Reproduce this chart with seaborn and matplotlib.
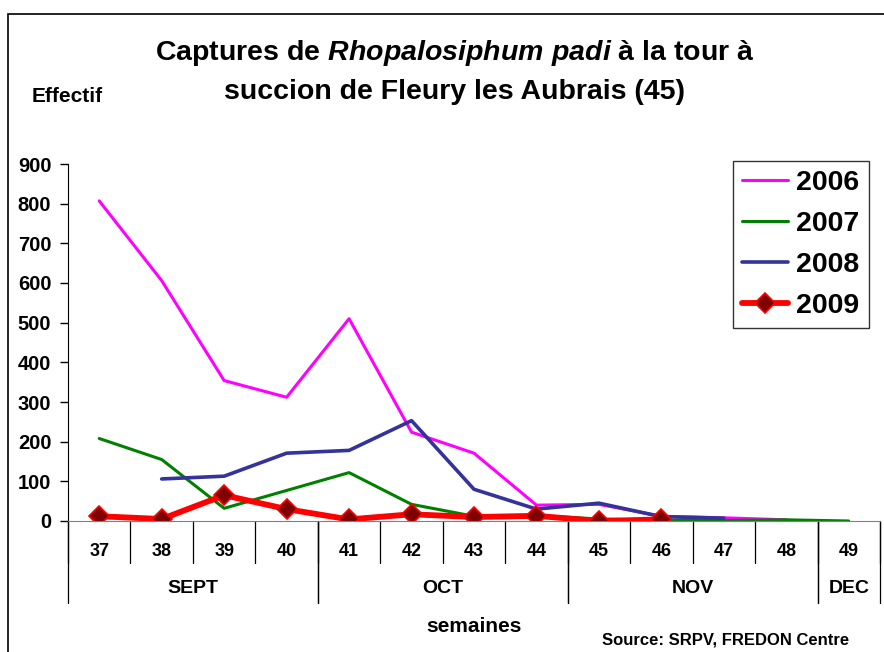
"""
Captures de Rhopalosiphum padi - Fleury les Aubrais
"""

import numpy as np
import pandas as pd
import matplotlib

matplotlib.use("Agg")
import matplotlib.pyplot as plt
import matplotlib.patches as mpatches
import matplotlib.transforms as mtransforms
import seaborn as sns

# Data
weeks = [37, 38, 39, 40, 41, 42, 43, 44, 45, 46, 47, 48, 49]
nan = np.nan
y2006 = [807, 606, 354, 312, 510, 224, 171, 40, 42, 12, 8, 3, nan]
y2007 = [208, 155, 32, 77, 122, 42, 12, 14, 5, 2, 1, 3, 0]
y2008 = [nan, 106, 113, 171, 178, 253, 80, 30, 45, 11, 7, nan, nan]
y2009 = [12, 5, 65, 30, 4, 17, 10, 13, 0, 4, nan, nan, nan]
months = ["SEPT", "OCT", "NOV", "DEC"]
month_weeks = [[37, 38, 39, 40], [41, 42, 43, 44], [45, 46, 47, 48], [49]]
yticks = [0, 100, 200, 300, 400, 500, 600, 700, 800, 900]

series = {"2006": y2006, "2007": y2007, "2008": y2008, "2009": y2009}
styles = {
    "2006": dict(color="#FF00FF", linewidth=2.2),
    "2007": dict(color="#008000", linewidth=2.2),
    "2008": dict(color="#333399", linewidth=2.6),
    "2009": dict(color="#FF0000", linewidth=4.2, marker="D", markersize=10,
                 markerfacecolor="#800000", markeredgecolor="#FF0000",
                 markeredgewidth=1.2),
}

sns.set_style("white")
plt.rcParams["font.family"] = ["Liberation Sans", "DejaVu Sans"]
plt.rcParams["font.weight"] = "bold"
plt.rcParams["text.color"] = "black"
plt.rcParams["xtick.color"] = "black"
plt.rcParams["ytick.color"] = "black"
plt.rcParams["mathtext.fontset"] = "custom"
plt.rcParams["mathtext.it"] = "Liberation Sans:italic:bold"
plt.rcParams["mathtext.rm"] = "Liberation Sans:bold"

fig = plt.figure(figsize=(8.84, 6.52), dpi=100)
ax = fig.add_axes([68 / 884, 1 - 521 / 652, (880 - 68) / 884, (521 - 164) / 652])

for year, vals in series.items():
    df = pd.DataFrame({"semaine": weeks, "effectif": vals}).dropna()
    sns.lineplot(data=df, x="semaine", y="effectif", ax=ax, label=year,
                 **styles[year])

ax.set_xlim(weeks[0] - 0.5, weeks[-1] + 0.5)
ax.set_ylim(0, 900)
ax.set_yticks(yticks)
ax.set_yticklabels([str(v) for v in yticks], fontsize=14.5, fontweight="bold")
ax.set_xticks(weeks)
ax.set_xticklabels([str(w) for w in weeks], fontsize=13, fontweight="bold")
ax.tick_params(axis="y", direction="out", length=6, width=1, color="black",
               left=True, pad=6)
ax.tick_params(axis="x", length=0, pad=16)
ax.set_xlabel("")
ax.set_ylabel("")

for side in ["top", "right"]:
    ax.spines[side].set_visible(False)
ax.spines["left"].set_color("black")
ax.spines["bottom"].set_color("#808080")

# category separators below the axis
trans = mtransforms.blended_transform_factory(ax.transData, ax.transAxes)
for b in np.arange(weeks[0] - 0.5, weeks[-1] + 1.0, 1.0):
    ax.plot([b, b], [0, -0.118], transform=trans, color="black", lw=0.9,
            clip_on=False)
for name, mw in zip(months, month_weeks):
    left, right = mw[0] - 0.5, mw[-1] + 0.5
    for b in (left, right):
        ax.plot([b, b], [0, -0.23], transform=trans, color="black", lw=0.9,
                clip_on=False)
    ax.text((left + right) / 2, -0.19, name, transform=trans, ha="center",
            va="center", fontsize=14, fontweight="bold")

# legend
leg = ax.legend(loc="upper left", bbox_to_anchor=(733 / 884, 1 - 161 / 652),
                bbox_transform=fig.transFigure, prop={"size": 20.5, "weight": "bold"},
                frameon=True, fancybox=False, handlelength=1.6,
                labelspacing=0.52, borderpad=0.33, handletextpad=0.3,
                borderaxespad=0)
leg.get_frame().set_edgecolor("black")
leg.get_frame().set_linewidth(1.0)

# title and texts
fig.text(455 / 884, 1 - 53 / 652, "Captures de $\\mathit{Rhopalosiphum\\ padi}$ à la tour à",
         ha="center", va="center", fontsize=20.5, fontweight="bold")
fig.text(455 / 884, 1 - 92 / 652, "succion de Fleury les Aubrais (45)",
         ha="center", va="center", fontsize=20.5, fontweight="bold")
fig.text(32 / 884, 1 - 97 / 652, "Effectif", ha="left", va="center",
         fontsize=15, fontweight="bold")
fig.text(474 / 884, 1 - 627 / 652, "semaines", ha="center", va="center",
         fontsize=15, fontweight="bold")
fig.text(726 / 884, 1 - 640 / 652, "Source: SRPV, FREDON Centre", ha="center",
         va="center", fontsize=12, fontweight="bold")

# outer frame
fig.patches.append(mpatches.Rectangle((8 / 884, -0.1), 1.1, 1 - 14 / 652 + 0.1,
                                      transform=fig.transFigure, fill=False,
                                      edgecolor="black", linewidth=1.2))

fig.savefig("out.png", dpi=100)
plt.close(fig)
